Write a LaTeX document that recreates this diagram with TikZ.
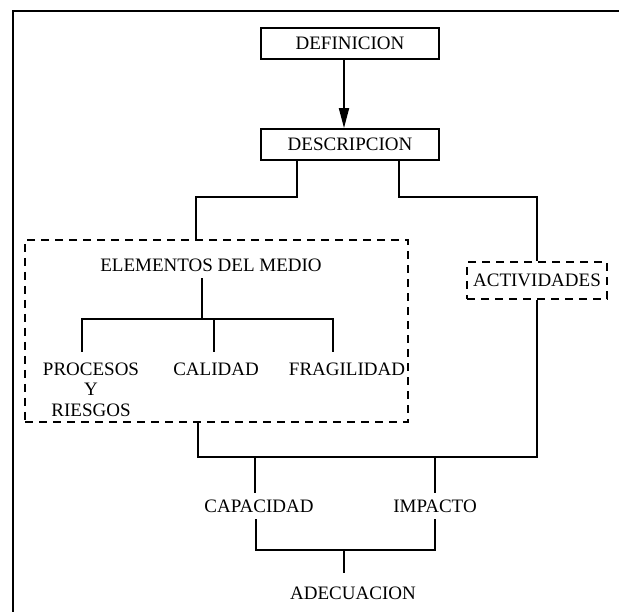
\documentclass[tikz,border=0pt]{standalone}
\usepackage{fontspec}
\setmainfont{Liberation Serif}
\usetikzlibrary{arrows.meta}
\begin{document}
\begin{tikzpicture}[x=1pt,y=-1pt,
  ln/.style={line width=1.8pt},
  lbl/.style={inner xsep=0pt,font=\fontsize{19}{20.5}\selectfont},
  solidbox/.style={lbl,draw,line width=1.8pt,inner sep=0pt,minimum width=178pt,minimum height=31pt},
  dashbox/.style={lbl,draw,line width=1.8pt,dash pattern=on 8pt off 6pt,inner sep=0pt},
]
\useasboundingbox (0,0) rectangle (619,612);
\fill[white] (0,0) rectangle (619,612);
\draw[line width=2pt] (13,612) -- (13,11) -- (619,11);

\node[solidbox] (defin) at (350,43.5) {DEFINICION};
\node[solidbox] (descr) at (350,144.5) {DESCRIPCION};
\node[dashbox,minimum width=383pt,minimum height=182pt] (medio) at (216.5,331) {};
\node[dashbox,minimum width=140pt,minimum height=37pt] (activ) at (537,280.5) {ACTIVIDADES};
\node[lbl,inner ysep=6.7pt] (elem) at (211,265) {ELEMENTOS DEL MEDIO};
\node[lbl,inner ysep=10.7pt,align=center] (procesos) at (91,389.5) {PROCESOS\\Y\\RIESGOS};
\node[lbl,inner ysep=10.7pt] (calidad) at (216,369) {CALIDAD};
\node[lbl,inner ysep=10.7pt] (fragil) at (347,369) {FRAGILIDAD};
\node[lbl,inner ysep=6.7pt] (capac) at (259,506) {CAPACIDAD};
\node[lbl,inner ysep=6.7pt] (impacto) at (435,506) {IMPACTO};
\node[lbl,inner ysep=6.7pt] (adec) at (353,593) {ADECUACION};

\draw[ln,-{Triangle[length=20pt,width=10pt]}] ([xshift=-6pt]defin.south) -- ([xshift=-6pt]descr.north);
\draw[ln] ([xshift=-53pt]descr.south) -- ++(0,36) -| ([xshift=-20.5pt]medio.north);
\draw[ln] ([xshift=49pt]descr.south) -- ++(0,36) -| (activ.north);
\draw[ln] ([xshift=-9pt]elem.south) -- ++(0,41);
\draw[ln] ([xshift=-9pt]procesos.north) -- ++(0,-33) -| ([xshift=-14pt]fragil.north);
\draw[ln] ([xshift=-2pt]calidad.north) -- ++(0,-33);
\draw[ln] ([xshift=-18.5pt]medio.south) -- ++(0,34) -| (activ.south);
\draw[ln] ([xshift=-4pt]capac.north) -- ++(0,-37);
\draw[ln] (impacto.north) -- ++(0,-37);
\draw[ln] ([xshift=-3pt]capac.south) -- ++(0,31) -| (impacto.south);
\coordinate (jA) at (344,550);
\draw[ln] (jA) -- ([xshift=-9pt,yshift=7pt]adec.north);
\end{tikzpicture}
\end{document}
